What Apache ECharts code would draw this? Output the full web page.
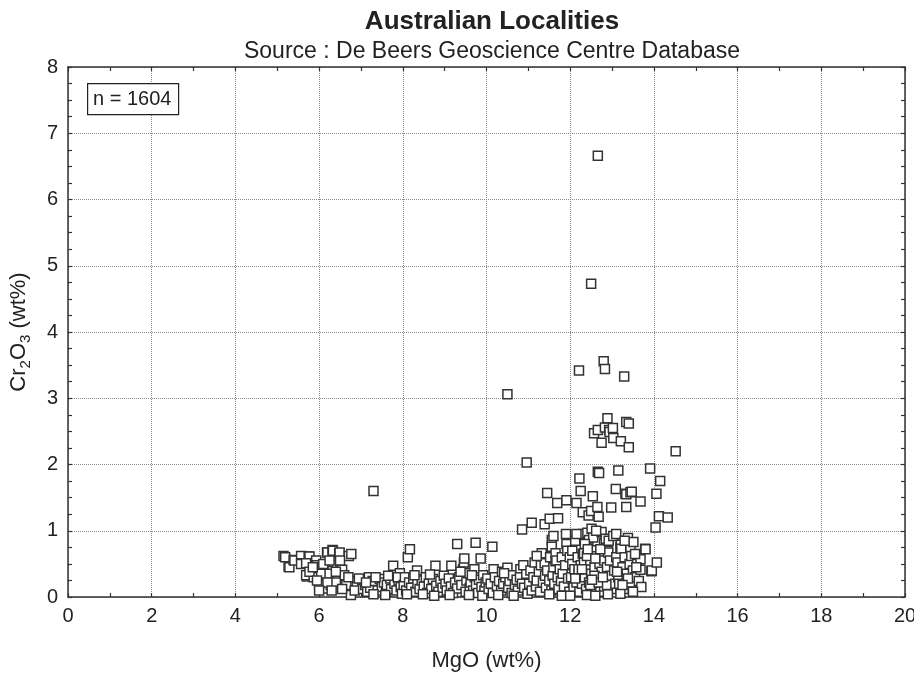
<!DOCTYPE html>
<html>
<head>
<meta charset="utf-8">
<script src="https://cdn.jsdelivr.net/npm/echarts@6/dist/echarts.min.js"></script>
<style>html,body{margin:0;padding:0;background:#fff}#c{width:914px;height:677px}</style>
</head>
<body>
<div id="c"></div>
<script>
// MgO (wt%), Cr2O3 (wt%) pairs
const lowMgO = [
[5.15,0.62],[5.19,0.60],[5.27,0.46],[5.29,0.45],[5.39,0.56],[5.41,0.55],[5.57,0.62],[5.59,0.51],[5.57,0.50],[5.75,0.61],
[5.77,0.61],[5.79,0.39],[5.71,0.31],[5.69,0.33],[5.69,0.51],[5.93,0.55],[5.95,0.48],[5.93,0.34],[5.87,0.30],[5.77,0.38],
[6.03,0.44],[6.11,0.26],[6.13,0.43],[6.15,0.43],[6.17,0.27],[6.19,0.67],[6.20,0.67],[6.23,0.44],[6.19,0.31],[6.32,0.71],
[6.33,0.70],[6.33,0.40],[6.32,0.42],[6.33,0.27],[6.35,0.53],[6.37,0.28],[6.43,0.48],[6.43,0.15],[6.48,0.66],[6.49,0.67],
[6.51,0.41],[6.55,0.41],[6.55,0.22],[6.57,0.26],[6.67,0.13],[6.71,0.62],[6.77,0.65],[6.79,0.24],[6.83,0.23],[6.76,0.03],
[6.11,0.13],[6.00,0.20],[6.05,0.35],[6.25,0.35],[6.28,0.18],[6.45,0.32],[6.60,0.33],[6.65,0.18],[6.40,0.22],[5.85,0.45],
[6.10,0.50],[6.25,0.55],[6.50,0.55],[6.40,0.38],[6.20,0.22],[6.55,0.12],[6.70,0.30],[6.90,0.15],[6.85,0.10],[6.30,0.10],
[6.00,0.10],[5.95,0.25]
];
const midMgO = [
[7.03,0.26],[7.19,0.30],[7.34,0.20],[7.05,0.12],[7.10,0.18],[7.15,0.08],[7.22,0.14],[7.28,0.24],[7.40,0.10],[7.45,0.27],
[7.50,0.15],[7.55,0.22],[7.60,0.08],[7.62,0.18],[7.70,0.28],[7.72,0.12],[7.77,0.47],[7.80,0.20],[7.85,0.10],[7.90,0.25],
[7.93,0.36],[7.95,0.15],[7.98,0.05],[7.30,0.04],[7.58,0.03],[6.95,0.28],[7.12,0.22],[7.35,0.30],[7.65,0.32],[7.88,0.30],
[8.02,0.18],[8.05,0.30],[8.08,0.10],[8.12,0.60],[8.17,0.72],[8.15,0.22],[8.20,0.14],[8.25,0.28],[8.30,0.08],[8.34,0.40],
[8.35,0.20],[8.40,0.12],[8.45,0.25],[8.50,0.16],[8.55,0.30],[8.58,0.06],[8.62,0.20],[8.68,0.12],[8.72,0.27],[8.78,0.47],
[8.80,0.17],[8.85,0.08],[8.90,0.24],[8.95,0.14],[8.98,0.32],[8.10,0.04],[8.48,0.04],[8.75,0.02],[8.28,0.33],[8.65,0.34],
[9.02,0.20],[9.05,0.10],[9.10,0.28],[9.16,0.47],[9.15,0.16],[9.20,0.06],[9.25,0.22],[9.30,0.80],[9.30,0.13],[9.35,0.30],
[9.40,0.18],[9.44,0.42],[9.46,0.52],[9.47,0.58],[9.50,0.08],[9.52,0.25],[9.55,0.36],[9.60,0.14],[9.62,0.22],[9.68,0.10],
[9.71,0.42],[9.72,0.30],[9.74,0.82],[9.75,0.18],[9.80,0.06],[9.82,0.26],[9.86,0.58],[9.88,0.15],[9.92,0.33],[9.95,0.10],
[9.98,0.22],[9.12,0.03],[9.58,0.03],[9.90,0.02],[9.38,0.38],[9.65,0.33],
[10.02,0.28],[10.05,0.12],[10.10,0.20],[10.14,0.76],[10.17,0.42],[10.15,0.06],[10.20,0.30],[10.25,0.16],[10.30,0.24],[10.35,0.10],
[10.37,0.38],[10.40,0.20],[10.45,0.30],[10.50,0.44],[10.52,0.14],[10.55,0.24],[10.60,0.06],[10.62,0.33],[10.68,0.18],[10.72,0.26],
[10.75,0.10],[10.81,0.42],[10.80,0.30],[10.85,1.02],[10.85,0.20],[10.90,0.14],[10.95,0.35],[10.98,0.05],[10.28,0.03],[10.65,0.02],
[10.42,0.36],[10.88,0.48]
];
const highMgO = [
[11.02,0.20],[11.05,0.40],[11.08,1.12],[11.08,0.10],[11.12,0.30],[11.15,0.52],[11.18,0.16],[11.20,0.25],[11.25,0.38],[11.28,0.08],
[11.30,0.48],[11.32,0.66],[11.35,0.22],[11.39,1.10],[11.39,0.51],[11.40,0.32],[11.42,0.14],[11.45,1.57],[11.45,0.40],[11.50,0.25],
[11.51,1.18],[11.52,0.60],[11.55,0.10],[11.56,0.86],[11.56,0.76],[11.58,0.32],[11.60,0.45],[11.62,0.20],[11.65,0.54],[11.65,0.66],
[11.67,0.55],[11.69,1.42],[11.70,0.30],[11.71,1.19],[11.72,0.12],[11.75,0.42],[11.78,0.24],[11.80,0.60],[11.82,0.35],[11.85,0.16],
[11.88,0.48],[11.91,1.46],[11.91,0.80],[11.93,0.70],[11.95,0.28],[11.98,0.08],[11.99,0.60],[11.50,0.04],[11.80,0.02],[11.20,0.62],
[11.60,0.92],[11.90,0.95],
[12.02,0.30],[12.05,0.70],[12.05,0.50],[12.08,0.15],[12.10,0.42],[12.12,0.85],[12.15,1.42],[12.15,0.22],[12.18,0.60],[12.20,0.35],
[12.21,3.42],[12.22,1.79],[12.22,0.08],[12.25,1.60],[12.25,0.48],[12.28,0.20],[12.30,1.28],[12.31,0.95],[12.30,0.65],[12.33,0.66],
[12.33,0.52],[12.35,0.30],[12.38,0.12],[12.40,0.42],[12.41,0.97],[12.44,1.23],[12.45,0.86],[12.45,0.22],[12.48,0.55],[12.50,1.30],
[12.50,4.73],[12.50,0.35],[12.51,1.03],[12.53,0.63],[12.54,1.52],[12.55,0.15],[12.57,2.47],[12.58,0.45],[12.60,0.75],[12.62,0.28],
[12.65,0.84],[12.65,1.36],[12.66,2.52],[12.66,1.89],[12.66,6.66],[12.68,1.21],[12.69,1.87],[12.70,0.50],[12.72,0.08],[12.75,2.33],
[12.75,0.38],[12.78,0.62],[12.80,3.56],[12.81,0.81],[12.81,0.55],[12.81,0.16],[12.83,3.44],[12.83,2.56],[12.85,0.25],[12.88,0.45],
[12.89,2.70],[12.90,0.70],[12.91,0.67],[12.93,2.52],[12.94,2.49],[12.95,0.32],[12.98,1.35],[12.98,0.12],[12.00,0.02],[12.40,0.03],
[12.60,0.02],[12.90,0.04],[12.15,0.95],[12.55,0.90],[12.75,0.98],[12.35,0.80],[12.62,1.00],[12.85,0.88],[12.20,0.42],[12.40,0.62],
[12.60,0.58],[12.72,0.72],[12.95,0.55],[12.12,0.28],[12.28,0.42],[12.48,0.18],[12.58,0.32],[12.68,0.22],[12.88,0.18],[12.42,0.72],
[12.52,0.26],[12.78,0.30],[12.92,0.85],
[13.02,2.55],[13.03,2.40],[13.03,0.92],[13.05,0.40],[13.08,0.20],[13.09,1.63],[13.10,0.60],[13.13,0.52],[13.15,1.91],[13.15,0.30],
[13.17,0.20],[13.20,0.75],[13.21,2.35],[13.21,0.79],[13.22,0.73],[13.25,0.45],[13.28,0.12],[13.29,3.33],[13.30,0.60],[13.32,1.56],
[13.34,2.64],[13.34,1.36],[13.34,1.55],[13.35,0.35],[13.38,0.89],[13.40,2.62],[13.40,2.26],[13.42,0.50],[13.44,1.58],[13.44,0.74],
[13.45,0.22],[13.46,0.62],[13.47,1.59],[13.50,0.40],[13.51,0.83],[13.55,0.30],[13.60,0.50],[13.64,0.24],[13.68,1.44],[13.68,0.57],
[13.68,0.41],[13.70,0.15],[13.79,0.73],[13.80,0.72],[13.91,1.94],[13.94,0.39],[13.95,0.40],[14.04,1.05],[14.06,1.56],[14.07,0.52],
[14.12,1.22],[14.15,1.75],[14.33,1.20],[14.52,2.20],[13.20,0.05],[13.50,0.08],[13.10,0.95],[13.30,0.85],[13.55,0.65],[13.12,0.38],
[13.38,0.28],[13.58,0.45],[13.25,0.18]
];
const outliers = [[7.30,1.60],[10.50,3.06],[10.96,2.03]];

const titleText = 'Australian Localities';
const subText = 'Source : De Beers Geoscience Centre Database';
const countText = 'n = 1604';

const allPoints = lowMgO.concat(midMgO, highMgO, outliers);

const chart = echarts.init(document.getElementById('c'), null, {renderer: 'canvas'});
const FONT = 'Liberation Sans, Arial, Helvetica, sans-serif';
const axisCommon = {
  type: 'value',
  axisLine: {show: true, onZero: false, lineStyle: {color: '#333', width: 1.5}},
  axisTick: {show: true, inside: true, length: 4, lineStyle: {color: '#333', width: 1.2}},
  minorTick: {show: true, length: 4, lineStyle: {color: '#333', width: 1.2}},
  splitLine: {show: false},
  minorSplitLine: {show: false}
};
chart.setOption({
  animation: false,
  backgroundColor: '#fff',
  title: [
    {text: titleText, left: 487, textAlign: 'center', top: 4, textStyle: {fontFamily: FONT, fontSize: 26, fontWeight: 'bold', color: '#222'}},
    {text: subText, left: 487, textAlign: 'center', top: 35, textStyle: {fontFamily: FONT, fontSize: 23, fontWeight: 'normal', color: '#222'}}
  ],
  grid: {left: 68, right: 9, top: 67, bottom: 80, containLabel: false, outerBoundsMode: 'none'},
  xAxis: [
    Object.assign({}, axisCommon, {
      position: 'bottom', min: 0, max: 20, interval: 2,
      minorTick: Object.assign({}, axisCommon.minorTick, {splitNumber: 2}),
      splitLine: {show: true, lineStyle: {type: 'dotted', color: '#8a8a8a', width: 1}},
      axisLabel: {fontFamily: FONT, fontSize: 20, color: '#222', margin: 9},
      name: 'MgO (wt%)', nameLocation: 'middle', nameGap: 53,
      nameTextStyle: {fontFamily: FONT, fontSize: 22, color: '#222'}
    }),
    Object.assign({}, axisCommon, {
      position: 'top', min: 0, max: 20, interval: 2,
      minorTick: Object.assign({}, axisCommon.minorTick, {splitNumber: 2}),
      axisLabel: {show: false}
    })
  ],
  yAxis: [
    Object.assign({}, axisCommon, {
      position: 'left', min: 0, max: 8, interval: 1,
      minorTick: Object.assign({}, axisCommon.minorTick, {splitNumber: 4}),
      splitLine: {show: true, lineStyle: {type: 'dotted', color: '#8a8a8a', width: 1}},
      axisLabel: {fontFamily: FONT, fontSize: 20, color: '#222', margin: 10},
      name: '{a|Cr}{s|2}{a|O}{s|3}{a| (wt%)}', nameLocation: 'middle', nameGap: 36,
      nameTextStyle: {
        fontFamily: FONT, fontSize: 22, color: '#222',
        rich: {
          a: {fontFamily: FONT, fontSize: 22, color: '#222', lineHeight: 26},
          s: {fontFamily: FONT, fontSize: 15, color: '#222', lineHeight: 16, padding: [13, 0, 0, 0]}
        }
      }
    }),
    Object.assign({}, axisCommon, {
      position: 'right', min: 0, max: 8, interval: 1,
      minorTick: Object.assign({}, axisCommon.minorTick, {splitNumber: 4}),
      axisLabel: {show: false}
    })
  ],
  graphic: [
    {type: 'rect', left: 87, top: 83, shape: {width: 91, height: 31}, style: {fill: '#fff', stroke: '#222', lineWidth: 1.2}, z: 100},
    {type: 'text', left: 93, top: 89, style: {text: countText, font: '20px ' + FONT, fill: '#222'}, z: 101}
  ],
  series: [{
    type: 'scatter',
    xAxisIndex: 0, yAxisIndex: 0,
    symbol: 'rect',
    symbolSize: 9,
    data: allPoints,
    itemStyle: {color: '#fff', borderColor: '#333', borderWidth: 1.5, opacity: 1},
    emphasis: {disabled: true}
  }]
});
</script>
</body>
</html>
